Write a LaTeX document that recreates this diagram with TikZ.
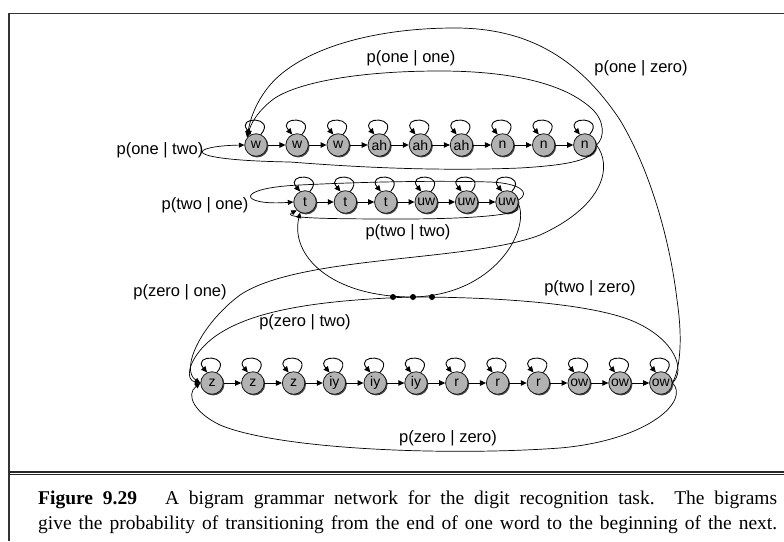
\documentclass[tikz,border=0pt]{standalone}
\usepackage{fontspec}
\setmainfont{Liberation Serif}
\newfontfamily\labfont{Liberation Sans}
\usetikzlibrary{arrows.meta,shadows}
\begin{document}
\begin{tikzpicture}[x=1pt,y=1pt,
  st/.style={circle,draw=black!90,line width=0.8pt,fill=black!30,minimum size=22.5pt,inner sep=0pt,
     font=\labfont\fontsize{14}{14}\selectfont,
     drop shadow={shadow xshift=1.2pt,shadow yshift=-1.2pt,fill=black!80,opacity=0.9}},
  conn/.style={line width=0.7pt,-{Triangle[length=5.5pt,width=5pt]}},
  chain/.style={line width=0.9pt,-{Triangle[length=6pt,width=5.5pt]}},
  lbl/.style={font=\labfont\fontsize{16.5}{18}\selectfont,inner sep=0pt},
  frameline/.style={line width=1.8pt,draw=black!80},
  captext/.style={anchor=base west,inner sep=0pt,font=\fontsize{19.5}{24}\selectfont}]
\useasboundingbox (0,0) rectangle (784,-541);
% frame
\draw[frameline] (9.2,-541) -- (9.2,-13.5) -- (784,-13.5);
\draw[line width=1.8pt,black!85] (9.2,-471.6) -- (784,-471.6);
\draw[line width=1.3pt,black!85] (9.2,-474.6) -- (784,-474.6);
% states
\foreach \l [count=\i] in {w,w,w,ah,ah,ah,n,n,n}
  \node[st] (a\i) at ({256+41.1*(\i-1)},-145) {\l};
\foreach \l [count=\i] in {t,t,t,uw,uw,uw}
  \node[st] (b\i) at ({305+40.4*(\i-1)},-202) {\l};
\foreach \l [count=\i] in {z,z,z,iy,iy,iy,r,r,r,ow,ow,ow}
  \node[st] (c\i) at ({212+40.8*(\i-1)},-383) {\l};
% chain arrows and self loops
\foreach \i in {1,...,8}{\pgfmathtruncatemacro\j{\i+1}\draw[chain] (a\i) -- (a\j);}
\foreach \i in {1,...,5}{\pgfmathtruncatemacro\j{\i+1}\draw[chain] (b\i) -- (b\j);}
\foreach \i in {1,...,11}{\pgfmathtruncatemacro\j{\i+1}\draw[chain] (c\i) -- (c\j);}
\foreach \i in {1,...,9}{\draw[chain] (a\i.65) .. controls +(50:24) and +(130:24) .. (a\i.115);}
\foreach \i in {1,...,6}{\draw[chain] (b\i.65) .. controls +(50:24) and +(130:24) .. (b\i.115);}
\foreach \i in {1,...,12}{\draw[chain] (c\i.65) .. controls +(50:24) and +(130:24) .. (c\i.115);}
% p(one|zero)
\draw[conn] (c12.east) .. controls (684,-360) and (680,-320) .. (677,-300)
  .. controls (670,-240) and (650,-170) .. (620,-120)
  .. controls (580,-60) and (530,-28) .. (455,-28)
  .. controls (370,-28) and (300,-50) .. (270,-85)
  .. controls (255,-103) and (250,-120) .. (a1.140);
% p(one|one)
\draw[conn] (a9.east) .. controls (605,-138) and (605,-120) .. (591,-108)
  .. controls (560,-80) and (500,-71) .. (440,-71)
  .. controls (360,-71) and (300,-82) .. (275,-98)
  .. controls (258,-110) and (250,-125) .. (a1.130);
% p(one|two)
\draw[conn] (a9.-15) .. controls (592,-160) and (570,-165) .. (520,-168)
  .. controls (420,-172) and (330,-165) .. (290,-162)
  .. controls (175,-160) and (190,-146) .. (a1.west);
% p(two|one)
\draw[conn] (b6.10) .. controls (532,-192) and (518,-183) .. (490,-182)
  .. controls (420,-180) and (340,-183) .. (300,-185)
  .. controls (232,-188) and (240,-206) .. (b1.west);
% p(two|two)
\draw[conn] (b6.-25) .. controls (525,-214) and (480,-219) .. (400,-219)
  .. controls (320,-219) and (282,-218) .. (b1.225);
% p(two|zero)
\draw[conn] (c12.east) .. controls (686,-370) and (675,-340) .. (635,-322)
  .. controls (595,-304) and (500,-297) .. (413,-297)
  .. controls (330,-297) and (290,-255) .. (b1.245);
% p(zero|two)
\draw[conn] (b6.-10) .. controls (530,-230) and (495,-295) .. (413,-297)
  .. controls (320,-300) and (240,-310) .. (205,-345)
  .. controls (188,-362) and (185,-380) .. (c1.west);
% p(zero|one)
\draw[conn] (a9.east) .. controls (612,-165) and (606,-205) .. (540,-235)
  .. controls (470,-262) and (300,-255) .. (240,-295)
  .. controls (200,-325) and (180,-370) .. (c1.west);
% p(zero|zero)
\draw[conn] (c12.east) .. controls (690,-400) and (650,-440) .. (560,-448)
  .. controls (450,-456) and (280,-450) .. (220,-425)
  .. controls (195,-413) and (185,-395) .. (c1.west);
% dots
\foreach \x [count=\k] in {393,413,432}
  \fill (\x,-297) circle (3pt) coordinate (dot\k);
% labels
\node[lbl] (l1) at (411,-58) {p(one | one)};
\node[lbl] (l2) at (641,-68) {p(one | zero)};
\node[lbl] (l3) at (160,-150) {p(one | two)};
\node[lbl] (l4) at (205,-205) {p(two | one)};
\node[lbl] (l5) at (408,-232) {p(two | two)};
\node[lbl] (l6) at (180,-292) {p(zero | one)};
\node[lbl] (l7) at (590,-288) {p(two | zero)};
\node[lbl] (l8) at (305,-322) {p(zero | two)};
\node[lbl] (l9) at (448,-438) {p(zero | zero)};
% caption
\node[captext] (cap1) at (38,-504.5) {\makebox[739pt][s]{\textbf{Figure 9.29}\hspace{28pt}A bigram grammar network for the digit recognition task.\ \ The bigrams}};
\node[captext] (cap2) at (38,-529.5) {\makebox[739pt][s]{give the probability of transitioning from the end of one word to the beginning of the next.}};
\end{tikzpicture}
\end{document}
